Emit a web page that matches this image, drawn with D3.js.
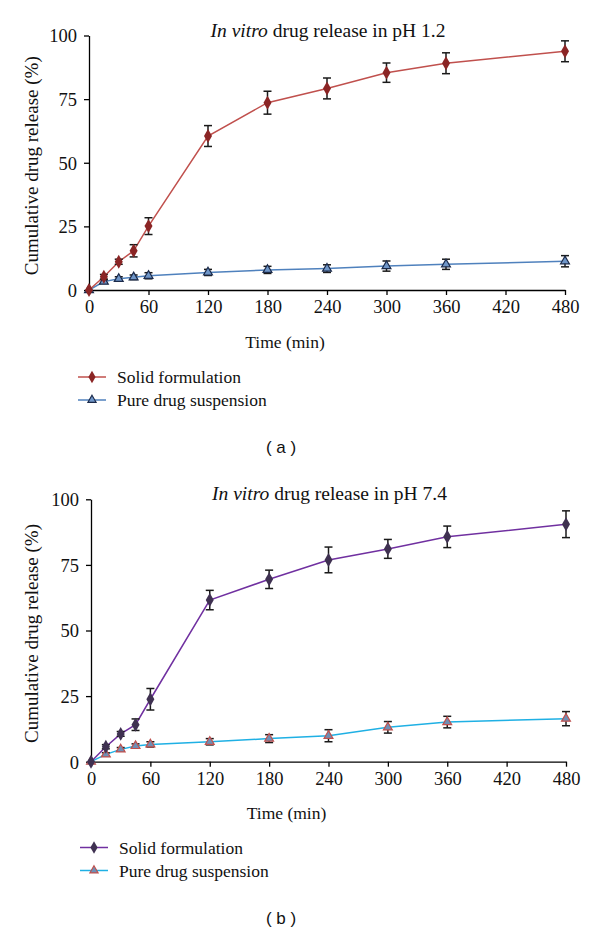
<!DOCTYPE html>
<html>
<head>
<meta charset="utf-8">
<script src="https://cdn.jsdelivr.net/npm/d3@7"></script>
<style>
  html, body { margin: 0; padding: 0; background: #fff; }
  svg { display: block; }
</style>
</head>
<body>
<svg id="chart" width="600" height="934"></svg>
<script>
// ---- Data ----
const times = [0, 15, 30, 45, 60, 120, 180, 240, 300, 360, 480];
const xTicks = [0, 60, 120, 180, 240, 300, 360, 420, 480];
const yTicks = [0, 25, 50, 75, 100];

const solidA    = [0, 5.2, 11.1, 15.4, 25.1, 60.5, 73.6, 79.2, 85.4, 89.1, 93.8];
const solidAErr = [0, 0.9, 1.0, 2.4, 3.3, 4.1, 4.5, 4.1, 3.8, 4.1, 4.1];
const pureA     = [0, 3.3, 4.4, 5.0, 5.6, 6.9, 7.9, 8.4, 9.4, 10.1, 11.3];
const pureAErr  = [0, 0.7, 0.8, 0.9, 1.2, 1.2, 1.4, 1.5, 2.0, 2.0, 2.2];

const solidB    = [0, 5.7, 10.6, 14.1, 23.8, 61.6, 69.5, 76.9, 81.1, 85.7, 90.5];
const solidBErr = [0, 0.8, 0.9, 2.2, 4.1, 3.7, 3.5, 4.9, 3.6, 4.1, 5.1];
const pureB     = [0, 2.8, 4.7, 6.0, 6.6, 7.6, 8.8, 9.9, 13.1, 15.1, 16.4];
const pureBErr  = [0, 0.6, 0.7, 0.8, 1.0, 1.2, 1.5, 2.3, 2.2, 2.2, 2.7];

const seriesNames = ["Solid formulation", "Pure drug suspension"];

const panels = [
  {
    title: "drug release in pH 1.2", label: "( a )",
    x0: 89, x1: 565, yTop: 35.5, yBot: 290,
    titleY: 37, xLabelY: 348, legY: 377, legX: 78, capY: 453,
    solid: solidA, solidErr: solidAErr, pure: pureA, pureErr: pureAErr,
    solidLine: "#c0504d", solidMark: "#8b2525",
    pureLine: "#4f81bd", pureFill: "#6f96c8", pureStroke: "#1b2a4a"
  },
  {
    title: "drug release in pH 7.4", label: "( b )",
    x0: 91, x1: 566, yTop: 499.3, yBot: 761.7,
    titleY: 500, xLabelY: 819, legY: 847.5, legX: 80, capY: 924,
    solid: solidB, solidErr: solidBErr, pure: pureB, pureErr: pureBErr,
    solidLine: "#7030a0", solidMark: "#3f3151",
    pureLine: "#1fb0e4", pureFill: "#6f8fb5", pureStroke: "#c0504d"
  }
];

const svg = d3.select("#chart");
const serif = "'Liberation Serif', 'Times New Roman', serif";
const sans = "'Liberation Sans', Arial, sans-serif";

panels.forEach(p => {
  const g = svg.append("g");
  const x = d3.scaleLinear().domain([0, 480]).range([p.x0, p.x1]);
  const y = d3.scaleLinear().domain([0, 100]).range([p.yBot, p.yTop]);

  // axes
  const xAxis = d3.axisBottom(x).tickValues(xTicks).tickSize(5).tickSizeOuter(0).tickPadding(5);
  const yAxis = d3.axisLeft(y).tickValues(yTicks).tickSize(5).tickSizeOuter(0).tickPadding(7);
  const gx = g.append("g").attr("transform", `translate(0,${p.yBot})`).call(xAxis);
  const gy = g.append("g").attr("transform", `translate(${p.x0},0)`).call(yAxis);
  [gx, gy].forEach(a => {
    a.select(".domain").attr("stroke", "#000").attr("stroke-width", 1.3);
    a.selectAll(".tick line").attr("stroke", "#000").attr("stroke-width", 1.3);
    a.selectAll(".tick text").attr("fill", "#111").style("font-family", serif).style("font-size", "18.5px");
  });
  gy.selectAll(".tick text").attr("dy", "0.35em");

  // title
  const t = g.append("text").attr("x", (p.x0 + p.x1) / 2 + 1).attr("y", p.titleY)
    .attr("text-anchor", "middle").style("font-family", serif).style("font-size", "19.5px").attr("fill", "#111");
  t.append("tspan").style("font-style", "italic").text("In vitro");
  t.append("tspan").text(" " + p.title);

  // y label
  g.append("text")
    .attr("transform", `translate(${38},${(p.yTop + p.yBot) / 2 + 3}) rotate(-90)`)
    .attr("text-anchor", "middle").style("font-family", serif).style("font-size", "19px").attr("fill", "#111")
    .text("Cumulative drug release (%)");

  // x label
  g.append("text").attr("x", (p.x0 + p.x1) / 2 - 42).attr("y", p.xLabelY)
    .attr("text-anchor", "middle").style("font-family", serif).style("font-size", "17.5px").attr("fill", "#111")
    .text("Time (min)");

  const line = d3.line().x((d, i) => x(times[i])).y(d => y(d));

  function drawSeries(vals, errs, lineColor, kind) {
    g.append("path").datum(vals).attr("d", line).attr("fill", "none")
      .attr("stroke", lineColor).attr("stroke-width", 1.5);
    // error bars
    const eb = g.append("g").attr("stroke", "#1a1a1a").attr("stroke-width", 1.5);
    vals.forEach((v, i) => {
      if (!errs[i]) return;
      const cx = x(times[i]);
      const yHi = y(v + errs[i]), yLo = y(v - errs[i]);
      eb.append("line").attr("x1", cx).attr("x2", cx).attr("y1", yHi).attr("y2", yLo);
      eb.append("line").attr("x1", cx - 4).attr("x2", cx + 4).attr("y1", yHi).attr("y2", yHi);
      eb.append("line").attr("x1", cx - 4).attr("x2", cx + 4).attr("y1", yLo).attr("y2", yLo);
    });
    // markers
    vals.forEach((v, i) => {
      const cx = x(times[i]), cy = y(v);
      if (kind === "diamond") {
        g.append("path").attr("d", d3.symbol(d3.symbolDiamond, 56)())
          .attr("transform", `translate(${cx},${cy})`).attr("fill", p.solidMark);
      } else {
        g.append("path").attr("d", d3.symbol(d3.symbolTriangle, 34)())
          .attr("transform", `translate(${cx},${cy})`).attr("fill", p.pureFill)
          .attr("stroke", p.pureStroke).attr("stroke-width", 1.2);
      }
    });
  }
  drawSeries(p.pure, p.pureErr, p.pureLine, "tri");
  drawSeries(p.solid, p.solidErr, p.solidLine, "diamond");

  // legend
  const leg = g.append("g");
  [0, 1].forEach(k => {
    const ly = p.legY + k * 23;
    leg.append("line").attr("x1", p.legX).attr("x2", p.legX + 28).attr("y1", ly).attr("y2", ly)
      .attr("stroke", k === 0 ? p.solidLine : p.pureLine).attr("stroke-width", 1.5);
    if (k === 0) {
      leg.append("path").attr("d", d3.symbol(d3.symbolDiamond, 45)())
        .attr("transform", `translate(${p.legX + 14},${ly})`).attr("fill", p.solidMark);
    } else {
      leg.append("path").attr("d", d3.symbol(d3.symbolTriangle, 30)())
        .attr("transform", `translate(${p.legX + 14},${ly})`).attr("fill", p.pureFill)
        .attr("stroke", p.pureStroke).attr("stroke-width", 1.1);
    }
    leg.append("text").attr("x", p.legX + 39).attr("y", ly + 6)
      .style("font-family", serif).style("font-size", "17.5px").attr("fill", "#111")
      .text(seriesNames[k]);
  });

  // panel label
  g.append("text").attr("x", 281).attr("y", p.capY)
    .attr("text-anchor", "middle").style("font-family", sans).style("font-size", "17px").attr("fill", "#111")
    .text(p.label);
});
</script>
</body>
</html>
